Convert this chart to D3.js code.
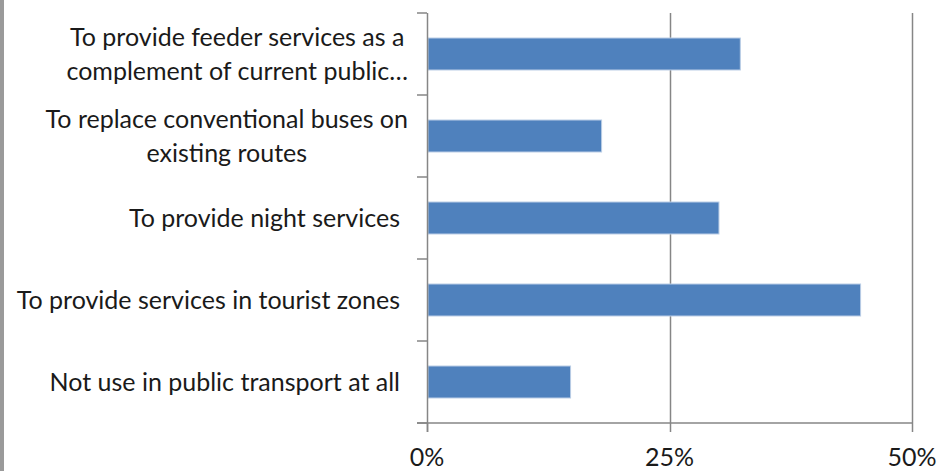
<!DOCTYPE html>
<html>
<head>
<meta charset="utf-8">
<script src="https://cdn.jsdelivr.net/npm/d3@7"></script>
<style>
  html, body { margin: 0; padding: 0; background: #fff; }
  svg { display: block; font-family: Lato, "Open Sans", sans-serif; }
  .cat-label, .tick-label { fill: #1a1a1a; font-size: 25px; }
</style>
</head>
<body>
<div id="chart"></div>
<script>
const categories = [
  ["To provide feeder services as a", "complement of current public…"],
  ["To replace conventional buses on", "existing routes"],
  ["To provide night services"],
  ["To provide services in tourist zones"],
  ["Not use in public transport at all"],
];
const values = [32.3, 18.0, 30.1, 44.7, 14.8];
const tickValues = [0, 25, 50];
const tickLabels = ["0%", "25%", "50%"];

const width = 939, height = 471;
const margin = { top: 13, right: 27, bottom: 48, left: 427 };
const innerWidth = width - margin.left - margin.right;
const innerHeight = height - margin.top - margin.bottom;
const axisColor = "#868686";

const svg = d3.select("#chart").append("svg")
  .attr("width", width)
  .attr("height", height);

// grey frame edge at left
svg.append("rect")
  .attr("x", 0).attr("y", 0)
  .attr("width", 4).attr("height", height)
  .attr("fill", "#9a9a9a");

const g = svg.append("g")
  .attr("transform", `translate(${margin.left},${margin.top})`);

const x = d3.scaleLinear().domain([0, 50]).range([0, innerWidth]);
const y = d3.scaleBand()
  .domain(d3.range(categories.length))
  .range([0, innerHeight])
  .paddingInner(0.61)
  .paddingOuter(0.305);
const band = d3.scaleBand()
  .domain(d3.range(categories.length))
  .range([0, innerHeight]);

// vertical gridlines
g.selectAll(".grid")
  .data(tickValues.slice(1))
  .join("line")
  .attr("class", "grid")
  .attr("x1", (d) => Math.round(x(d)) + 0.5)
  .attr("x2", (d) => Math.round(x(d)) + 0.5)
  .attr("y1", 0)
  .attr("y2", innerHeight)
  .attr("stroke", axisColor)
  .attr("stroke-width", 1.5);

// bars
g.selectAll(".bar")
  .data(values)
  .join("rect")
  .attr("class", "bar")
  .attr("x", x(0) + 1)
  .attr("y", (d, i) => y(i))
  .attr("width", (d) => x(d) - x(0) - 1)
  .attr("height", y.bandwidth())
  .attr("fill", "#4f81bd")
  .attr("stroke", "#b9cde5")
  .attr("stroke-width", 1);

// y axis
const yAxis = g.append("g");
yAxis.append("line")
  .attr("x1", 0.5).attr("x2", 0.5)
  .attr("y1", 0).attr("y2", innerHeight + 9)
  .attr("stroke", axisColor).attr("stroke-width", 1.5);
yAxis.selectAll(".ytick")
  .data(d3.range(categories.length + 1))
  .join("line")
  .attr("class", "ytick")
  .attr("x1", -10).attr("x2", 0)
  .attr("y1", (i) => i * band.bandwidth())
  .attr("y2", (i) => i * band.bandwidth())
  .attr("stroke", axisColor).attr("stroke-width", 1.5);

// x axis
const xAxis = g.append("g");
xAxis.append("line")
  .attr("x1", -10).attr("x2", innerWidth)
  .attr("y1", innerHeight).attr("y2", innerHeight)
  .attr("stroke", axisColor).attr("stroke-width", 1.5);
xAxis.selectAll(".xtick")
  .data(tickValues)
  .join("line")
  .attr("class", "xtick")
  .attr("x1", (d) => Math.round(x(d)) + 0.5)
  .attr("x2", (d) => Math.round(x(d)) + 0.5)
  .attr("y1", innerHeight)
  .attr("y2", innerHeight + 9)
  .attr("stroke", axisColor).attr("stroke-width", 1.5);
xAxis.selectAll(".tick-label")
  .data(tickValues)
  .join("text")
  .attr("class", "tick-label")
  .attr("x", (d) => x(d))
  .attr("y", innerHeight + 34)
  .attr("dy", "0.35em")
  .attr("text-anchor", "middle")
  .text((d, i) => tickLabels[i]);

// category labels
const lineHeight = 34;
const labelRight = -27;
categories.forEach((lines, i) => {
  const cy = band(i) + band.bandwidth() / 2;
  const grp = g.append("g");
  const texts = grp.selectAll("text")
    .data(lines)
    .join("text")
    .attr("class", "cat-label")
    .attr("y", (d, j) => cy + (j - (lines.length - 1) / 2) * lineHeight)
    .attr("dy", "0.35em")
    .text((d) => d);
  if (lines.length === 1) {
    texts.attr("x", labelRight).attr("text-anchor", "end");
  } else {
    const maxW = d3.max(texts.nodes(), (n) => n.getComputedTextLength());
    texts.attr("x", labelRight + 8 - maxW / 2).attr("text-anchor", "middle");
  }
});
</script>
</body>
</html>
